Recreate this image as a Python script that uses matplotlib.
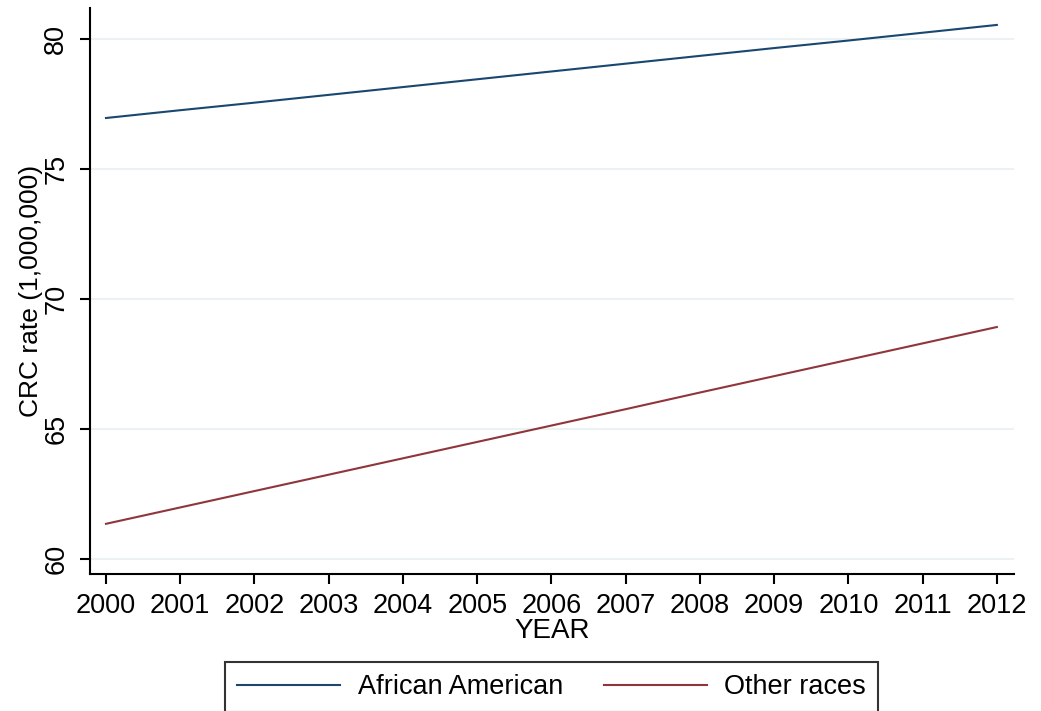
import matplotlib
matplotlib.use("Agg")
import matplotlib.pyplot as plt

plt.rcParams['font.family'] = ['Liberation Sans', 'DejaVu Sans']

years = [2000, 2001, 2002, 2003, 2004, 2005, 2006, 2007, 2008, 2009, 2010, 2011, 2012]
african_american = [76.96, 77.26, 77.55, 77.85, 78.15, 78.45, 78.75, 79.05, 79.35, 79.65, 79.94, 80.24, 80.54]
other_races = [61.35, 61.98, 62.61, 63.24, 63.87, 64.50, 65.13, 65.76, 66.40, 67.03, 67.66, 68.29, 68.92]
yticks = [60, 65, 70, 75, 80]

fig = plt.figure(figsize=(10.41, 7.11), dpi=100)
ax = fig.add_axes([0.0865, 0.1927, 0.974 - 0.0865, 0.9887 - 0.1927])

ax.plot(years, african_american, color='#1a476f', lw=1.5, label='African American')
ax.plot(years, other_races, color='#90353b', lw=1.5, label='Other races')

ax.set_xlim(1999.785, 2012.23)
ax.set_ylim(59.42, 81.19)
ax.set_xticks(years)
ax.set_yticks(yticks)
ax.grid(axis='y', color='#eaf2f3', lw=1.5)
ax.set_axisbelow(True)

for s in ['top', 'right']:
    ax.spines[s].set_visible(False)
ax.spines['left'].set_linewidth(1.5)
ax.spines['bottom'].set_linewidth(1.5)

ax.tick_params(axis='both', labelsize=19.5, length=7, width=1.5, direction='out')
ax.tick_params(axis='x', pad=7)
ax.tick_params(axis='y', pad=8, labelrotation=90)
for lab in ax.get_yticklabels():
    lab.set_va('center')

ax.set_xlabel('YEAR', fontsize=20, labelpad=-1)
ax.set_ylabel('CRC rate (1,000,000)', fontsize=19, labelpad=0)

leg = fig.legend(loc='upper center', bbox_to_anchor=(0.53, 1 - 662 / 711), ncol=2,
                 fontsize=19.5, frameon=True, fancybox=False, edgecolor='black',
                 handlelength=3.8, handletextpad=0.65, columnspacing=1.5,
                 borderpad=0.45, borderaxespad=0)
leg.get_frame().set_linewidth(1.5)

fig.savefig('out.png', dpi=100)
